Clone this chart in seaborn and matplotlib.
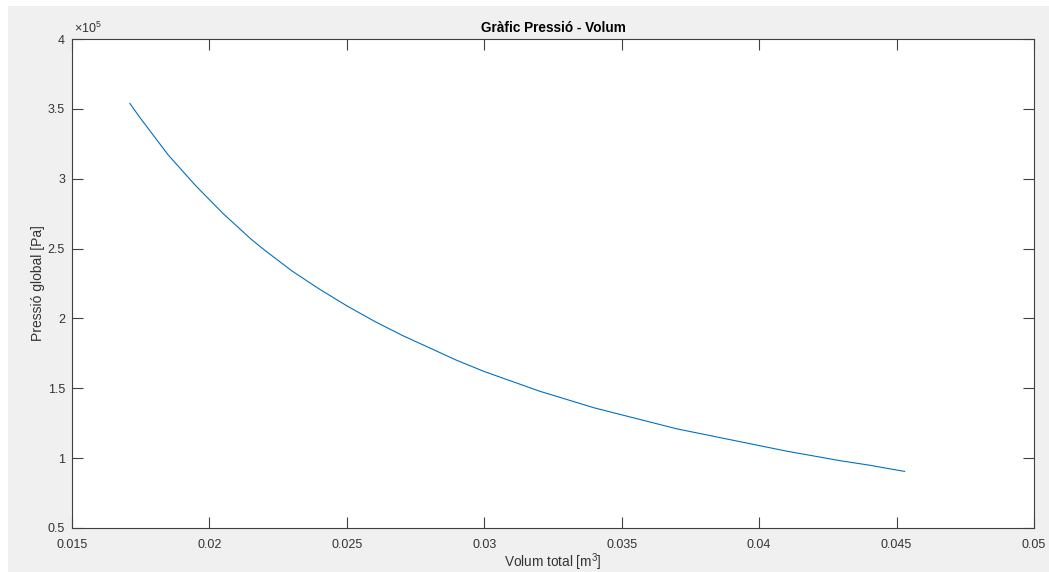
import matplotlib
matplotlib.use("Agg")
import matplotlib.pyplot as plt
from matplotlib.patches import Rectangle
from matplotlib.ticker import FuncFormatter, MultipleLocator
import seaborn as sns
import pandas as pd

# Data (volume in m^3, pressure in units of 1e5 Pa)
volum = [0.0171, 0.0175, 0.018, 0.0185, 0.019, 0.0195, 0.020, 0.0205,
         0.021, 0.0215, 0.022, 0.023, 0.024, 0.025,
         0.026, 0.027, 0.028, 0.029, 0.030, 0.031, 0.032, 0.033, 0.034,
         0.035, 0.036, 0.037, 0.038, 0.039, 0.040, 0.041, 0.042, 0.043,
         0.044, 0.045, 0.0453]
pressio_e5 = [3.54, 3.43, 3.30, 3.17, 3.06, 2.95, 2.85, 2.75,
              2.66, 2.57, 2.49, 2.34, 2.21, 2.09,
              1.98, 1.88, 1.79, 1.70, 1.62, 1.55, 1.48, 1.42, 1.36,
              1.31, 1.26, 1.21, 1.17, 1.13, 1.09, 1.05, 1.015, 0.98,
              0.95, 0.915, 0.905]
pressio = [p * 1e5 for p in pressio_e5]

title = "Gràfic Pressió - Volum"
xlabel = "Volum total [m$^3$]"
ylabel = "Pressió global [Pa]"

sns.set_theme(style="white")
plt.rcParams['font.family'] = ['Liberation Sans', 'DejaVu Sans']
plt.rcParams['mathtext.fontset'] = 'custom'
plt.rcParams['mathtext.rm'] = 'Liberation Sans'

W, H = 1049, 572
fig = plt.figure(figsize=(W / 100, H / 100), dpi=100, facecolor='white')
fig.patches.append(Rectangle((8 / W, 0), 1 - 8 / W, 1 - 6 / H,
                             transform=fig.transFigure, facecolor='#F0F0F0',
                             edgecolor='none', zorder=-10))

ax = fig.add_axes([72 / W, 1 - 528 / H, (1034 - 72) / W, (528 - 39) / H])
ax.set_facecolor('white')

df = pd.DataFrame({"V": volum, "P": pressio})
sns.lineplot(data=df, x="V", y="P", ax=ax, color='#0072BD', linewidth=0.8,
             sort=False)

ax.set_xlim(0.015, 0.05)
ax.set_ylim(0.5e5, 4e5)
ax.xaxis.set_major_locator(MultipleLocator(0.005))
ax.yaxis.set_major_locator(MultipleLocator(0.5e5))
ax.xaxis.set_major_formatter(FuncFormatter(lambda v, p: f"{v:g}"))
ax.yaxis.set_major_formatter(FuncFormatter(lambda v, p: f"{v / 1e5:g}"))

tc = '#333333'
for s in ax.spines.values():
    s.set_visible(True)
    s.set_color('#404040')
    s.set_linewidth(0.8)
ax.tick_params(direction='in', length=8, width=0.8, colors='#404040',
               labelcolor=tc, labelsize=9, top=True, right=True,
               bottom=True, left=True)
ax.tick_params(axis='x', pad=8)
ax.tick_params(axis='y', pad=5)

ax.set_title(title, fontsize=9.8, fontweight='bold', color='black', pad=5)
ax.set_xlabel(xlabel, fontsize=9.8, color=tc, labelpad=0)
ax.set_ylabel(ylabel, fontsize=10, color=tc, labelpad=2)
ax.text(0.002, 1.006, r"$\times 10^5$", transform=ax.transAxes, fontsize=9,
        color=tc, ha='left', va='bottom')

fig.savefig("out.png", dpi=100, facecolor=fig.get_facecolor())
